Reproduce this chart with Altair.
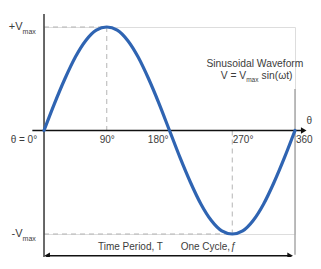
import altair as alt
import pandas as pd

# Sine curve (degrees, normalised voltage)
angle_deg = [0, 15, 30, 45, 60, 75, 90, 105, 120, 135, 150, 165, 180,
             195, 210, 225, 240, 255, 270, 285, 300, 315, 330, 345, 360]
voltage = [0, 0.26, 0.5, 0.71, 0.87, 0.97, 1.0, 0.97, 0.87, 0.71, 0.5, 0.26, 0,
           -0.26, -0.5, -0.71, -0.87, -0.97, -1.0, -0.97, -0.87, -0.71, -0.5, -0.26, 0]

# Tick labels along the theta axis
tick_text = ["θ = 0°", "90°", "180°", "270°", "360"]
tick_pos = [-9.8, 90.7, 178.6, 270.7, 361.4]
tick_align = ["right", "center", "right", "left", "left"]

# Dashed guide lines (x, y, x2, y2)
guide_x = [0, 90, 0, 270]
guide_y = [1, 1, -1, 0]
guide_x2 = [90, 90, 270, 270]
guide_y2 = [1, -0.03, -1, -1]

FONT = "Liberation Sans"
TXT = "#3c3c3c"

xs = alt.Scale(domain=[0, 360], nice=False, zero=False)
ys = alt.Scale(domain=[-1, 1], nice=False, zero=False)

def X(f="x"):
    return alt.X(f + ":Q", scale=xs, axis=None)

def Y(f="y"):
    return alt.Y(f + ":Q", scale=ys, axis=None)

curve_df = pd.DataFrame({"x": angle_deg, "y": voltage})
guide_df = pd.DataFrame({"x": guide_x, "y": guide_y, "x2": guide_x2, "y2": guide_y2})

guides = alt.Chart(guide_df).mark_rule(color="#b4b4b4", strokeWidth=1, strokeDash=[5, 4]).encode(
    x=X(), y=Y(), x2="x2:Q", y2="y2:Q")

vlines_df = pd.DataFrame({"x": [0, 360], "y": [1.126, 0.40], "y2": [-1.27, -1.2],
                          "c": ["#3a3a3a", "#a8a8a8"]})
vlines = alt.Chart(vlines_df).mark_rule(strokeWidth=1.5).encode(
    x=X(), y=Y(), y2="y2:Q", color=alt.Color("c:N", scale=None))

hlines_df = pd.DataFrame({"x": [-16.7, 6.0], "x2": [370.0, 351.0], "y": [0, -1.21]})
hlines = alt.Chart(hlines_df).mark_rule(strokeWidth=1.3, color="#111111").encode(
    x=X(), x2="x2:Q", y=Y())

heads_df = pd.DataFrame({"x": [372.5, 353.0, 4.5], "y": [0, -1.21, -1.21],
                         "s": ["triangle-right", "triangle-right", "triangle-left"]})
heads = alt.Chart(heads_df).mark_point(filled=True, color="#111111", size=42, opacity=1).encode(
    x=X(), y=Y(), shape=alt.Shape("s:N", scale=None))

curve = alt.Chart(curve_df).mark_line(color="#2F64B2", strokeWidth=3.2, interpolate="monotone",
                                      strokeCap="round").encode(x=X(), y=Y())

ticks_df = pd.DataFrame({"x": tick_pos, "y": [-0.092] * 5, "t": tick_text, "a": tick_align})
tick_layers = []
for al in ["left", "center", "right"]:
    sub = ticks_df[ticks_df["a"] == al]
    tick_layers.append(alt.Chart(sub).mark_text(align=al, baseline="middle", font=FONT,
                                                fontSize=10, color=TXT).encode(
        x=X(), y=Y(), text="t:N"))

def label(txt, x, y, align="left", size=10, italic=False):
    df = pd.DataFrame({"x": [x], "y": [y], "t": [txt]})
    kw = dict(align=align, baseline="middle", font=FONT, fontSize=size, color=TXT)
    if italic:
        kw["fontStyle"] = "italic"
    return alt.Chart(df).mark_text(**kw).encode(x=X(), y=Y(), text="t:N")

labels = [
    label("+V", -30.7, 1.0, "right", 11),
    label("max", -30.7, 0.955, "left", 7),
    label("-V", -30.7, -1.0, "right", 11),
    label("max", -30.7, -1.045, "left", 7),
    label("θ", 376.5, 0.087, "left", 10),
    label("Time Period, T", 124.0, -1.13, "center", 10),
    label("One Cycle, ", 267.0, -1.13, "right", 10),
    label("ƒ", 267.0, -1.13, "left", 10, italic=True),
    label("Sinusoidal Waveform", 302.5, 0.64, "center", 10.3),
    label("V = V", 290.0, 0.525, "right", 10.3),
    label("max", 290.0, 0.485, "left", 6.5),
    label("sin(ωt)", 312.0, 0.525, "left", 10.3),
]

chart = alt.layer(guides, vlines, hlines, heads, curve, *tick_layers, *labels).properties(
    width=251, height=207,
    autosize=alt.AutoSizeParams(type="none"),
    padding={"left": 36, "top": 19, "right": 18, "bottom": 23},
).configure_view(stroke=None).configure(background="white")

chart.save("out.html", embed_options={"renderer": "svg", "actions": False})
